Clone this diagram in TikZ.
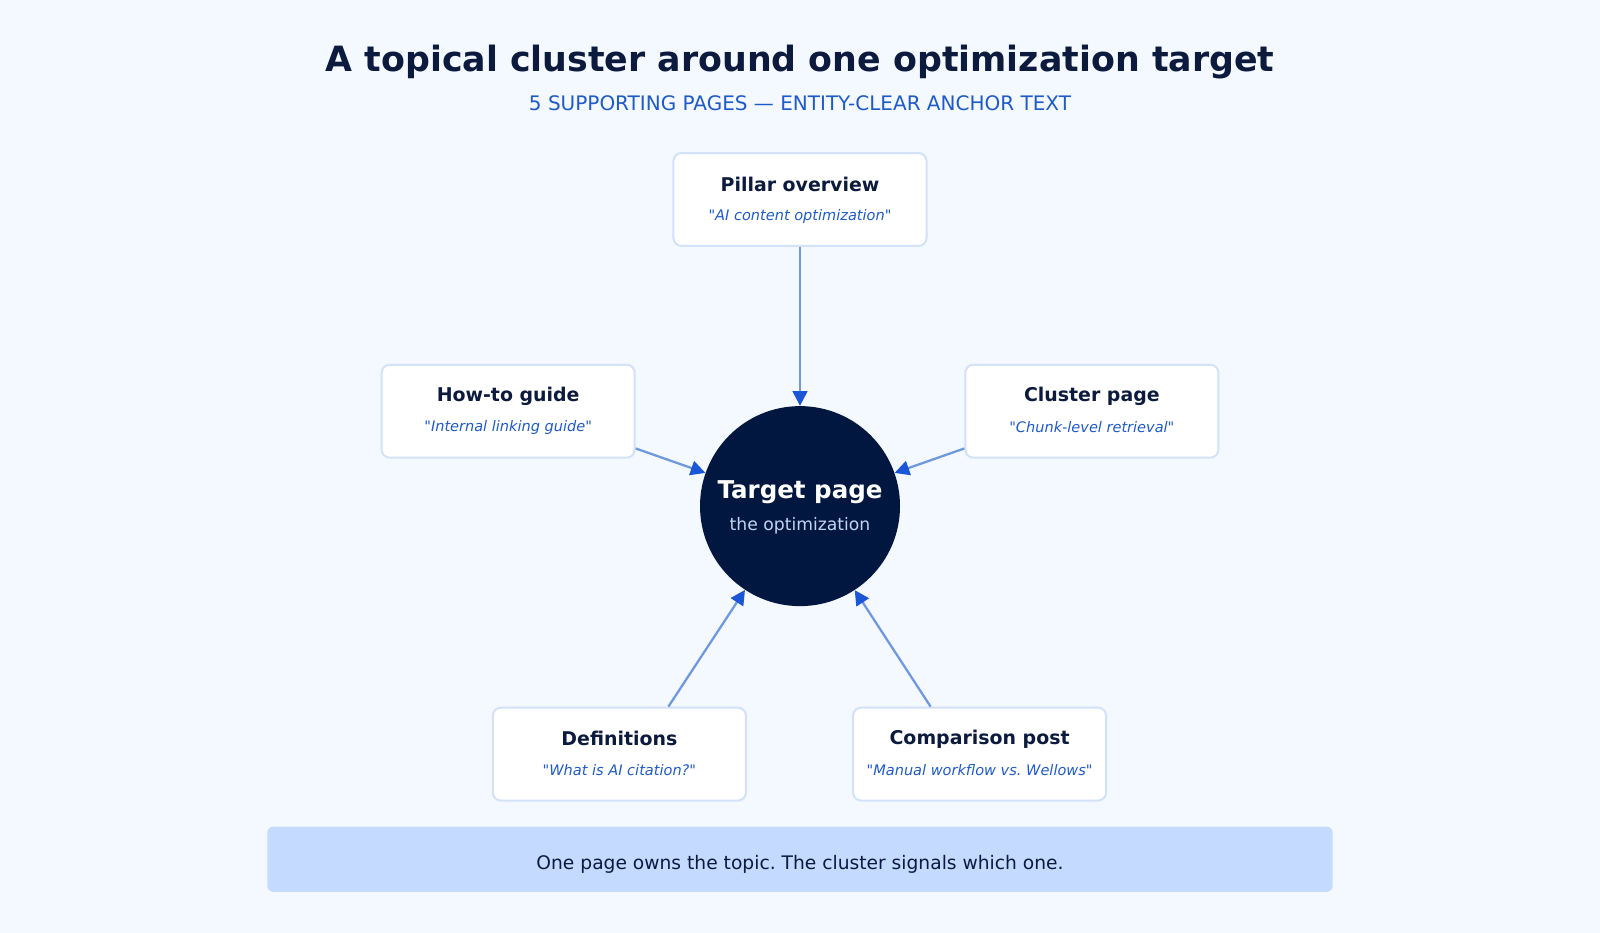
\documentclass[tikz,border=0pt]{standalone}
\usepackage{fontspec}
\setmainfont{DejaVu Sans}[Ligatures=TeXOff]
\frenchspacing
\usetikzlibrary{arrows.meta,calc}
\definecolor{bg}{HTML}{F4F8FF}
\definecolor{navy}{HTML}{0B1A3D}
\definecolor{deepnavy}{HTML}{02173F}
\definecolor{accent}{HTML}{1F5BC8}
\definecolor{boxline}{HTML}{D3E1F9}
\definecolor{shaft}{HTML}{6E98E0}
\definecolor{headblue}{HTML}{1A56D6}
\definecolor{bannerfill}{HTML}{C5DAFF}
\definecolor{lighttext}{HTML}{C3D4F2}
\def\pxs{0.7653}
\tikzset{
  pagebox/.style={draw=boxline, line width=1.5pt, fill=white, rounded corners=6pt,
    minimum width={248*\pxs pt}, minimum height={91*\pxs pt}, inner sep=0pt},
  boxtitle/.style={font=\bfseries\fontsize{14.2}{17}\selectfont, text=navy},
  boxsub/.style={font=\itshape\fontsize{10.9}{13}\selectfont, text=accent},
  link/.style={draw=shaft, line width=1.7pt,
    -{Triangle[length=11pt,width=11pt,color=headblue]}},
}
\begin{document}
\begin{tikzpicture}[x=0.7653pt,y=-0.7653pt]
\fill[bg] (0,0) rectangle (1568,914.3);
\useasboundingbox (0,0) rectangle (1568,914.3);
% title
\node[font=\bfseries\fontsize{26.1}{30}\selectfont, text=navy] (title) at (784,61) {A topical cluster around one optimization target};
\node[font=\fontsize{15}{18}\selectfont, text=accent] (subtitle) at (784,101.5) {5 SUPPORTING PAGES — ENTITY-CLEAR ANCHOR TEXT};
% center
\node[circle, fill=deepnavy, minimum size={196*\pxs pt}, inner sep=0pt] (target) at (784,496) {};
\node[font=\bfseries\fontsize{18.4}{22}\selectfont, text=white] (tgttitle) at (784,482.5) {Target page};
\node[font=\fontsize{12.9}{15}\selectfont, text=lighttext] (tgtsub) at (784,515) {the optimization};
% boxes
\node[pagebox] (pillar) at (784,195.5) {};
\node[boxtitle] (pillart) at (784,181) {Pillar overview};
\node[boxsub] (pillars) at (784,212) {"AI content optimization"};

\node[pagebox] (howto) at (498,403) {};
\node[boxtitle] (howtot) at (498,388) {How-to guide};
\node[boxsub] (howtos) at (498,419) {"Internal linking guide"};

\node[pagebox] (cluster) at (1070,403) {};
\node[boxtitle] (clustert) at (1070,388) {Cluster page};
\node[boxsub] (clusters) at (1070,419) {"Chunk-level retrieval"};

\node[pagebox] (defs) at (607,739) {};
\node[boxtitle] (defst) at (607,724) {Definitions};
\node[boxsub] (defss) at (607,755) {"What is AI citation?"};

\node[pagebox] (comp) at (960,739) {};
\node[boxtitle] (compt) at (960,724) {Comparison post};
\node[boxsub] (comps) at (960,755) {"Manual workflow vs. Wellows"};
% connectors
\draw[link] (pillar.south) -- (target);
\draw[link] ($(howto.south east)+(0,-10)$) -- (target);
\draw[link] ($(cluster.south west)+(0,-10)$) -- (target);
\draw[link] ($(defs.north)+(48,0)$) -- (target);
\draw[link] ($(comp.north)+(-48,0)$) -- (target);
% banner
\node[fill=bannerfill, rounded corners=4.5pt, minimum width={1044*\pxs pt}, minimum height={64*\pxs pt}, inner sep=0pt] (banner) at (784,842) {};
\node[font=\fontsize{14}{17}\selectfont, text=navy] (bannertext) at (784,847) {One page owns the topic. The cluster signals which one.};
\end{tikzpicture}
\end{document}
